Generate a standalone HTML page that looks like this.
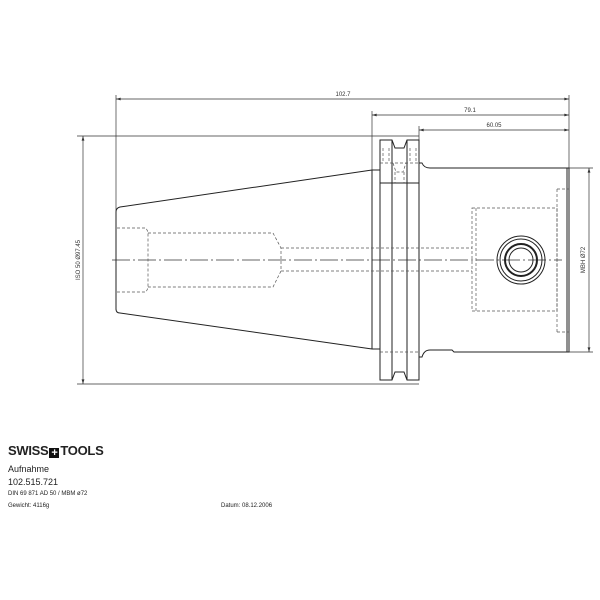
<!DOCTYPE html>
<html><head><style>
body{margin:0;background:#fff;width:600px;height:600px;overflow:hidden;font-family:"Liberation Sans",sans-serif}
svg{position:absolute;left:0;top:0}
.t{position:absolute;color:#222;white-space:nowrap}
</style></head><body>
<svg width="600" height="600" viewBox="0 0 600 600">
<defs><marker id="a" viewBox="0 0 10 6" refX="10" refY="3" markerWidth="8" markerHeight="4" orient="auto-start-reverse"><path d="M0,0L10,3L0,6z" fill="#333"/></marker></defs>
<g stroke="#333" stroke-width="0.7" fill="none">
<line x1="116" y1="99" x2="569" y2="99" marker-start="url(#a)" marker-end="url(#a)"/>
<line x1="372" y1="115" x2="569" y2="115" marker-start="url(#a)" marker-end="url(#a)"/>
<line x1="419" y1="130" x2="569" y2="130" marker-start="url(#a)" marker-end="url(#a)"/>
<line x1="116" y1="95" x2="116" y2="310"/>
<line x1="372" y1="111" x2="372" y2="170"/>
<line x1="419" y1="126" x2="419" y2="140"/>
<line x1="569" y1="95" x2="569" y2="350"/>
<line x1="77" y1="136" x2="419" y2="136"/>
<line x1="77" y1="384" x2="419" y2="384"/>
<line x1="83" y1="136" x2="83" y2="384" marker-start="url(#a)" marker-end="url(#a)"/>
<line x1="569" y1="168" x2="593" y2="168"/>
<line x1="569" y1="352" x2="593" y2="352"/>
<line x1="589" y1="168" x2="589" y2="352" marker-start="url(#a)" marker-end="url(#a)"/>
<line x1="112" y1="260" x2="562" y2="260" stroke-dasharray="18,3,2,3"/>
</g>
<g stroke="#222" stroke-width="1" fill="none">
<path d="M372,170 L120,207 Q116,208 116,212 L116,309 Q116,313 120,313 L372,349"/>
<path d="M380,380 L380,140 L392,140 L395,148 L404,148 L407,140 L419,140 L419,380 L407,380 L404,372 L395,372 L392,380 Z"/>
<line x1="392" y1="140" x2="392" y2="380"/>
<line x1="407" y1="140" x2="407" y2="380"/>
<line x1="372" y1="170" x2="372" y2="349"/>
<line x1="372" y1="170" x2="380" y2="170"/>
<line x1="372" y1="349" x2="380" y2="349"/>
<line x1="380" y1="183" x2="419" y2="183"/>
<path d="M419,163 L422,163 Q424,168 430,168 L569,168 L569,352 L454,352 L452,350 L430,350 Q424,350 422,357 L419,357"/>
<line x1="567" y1="168" x2="567" y2="352"/>
<circle cx="521" cy="260" r="24"/>
<circle cx="521" cy="260" r="21"/>
<circle cx="521" cy="260" r="16" stroke-width="2"/>
<circle cx="521" cy="260" r="12"/>
</g>
<g stroke="#555" stroke-width="0.7" fill="none" stroke-dasharray="3,2">
<path d="M117,228 L146,228 L148,232 L148,288 L146,292 L117,292"/>
<path d="M148,233 L273,233 L281,248 L281,271 L273,287 L148,287"/>
<line x1="281" y1="248" x2="472" y2="248"/>
<line x1="281" y1="271" x2="472" y2="271"/>
<path d="M472,208 L557,208 L557,311 L472,311 Z"/>
<line x1="476" y1="208" x2="476" y2="311"/>
<path d="M557,189 L569,189 M557,332 L569,332 M557,189 L557,332"/>
<path d="M380,163 L419,163 M380,352 L419,352"/>
<path d="M383,148 L383,163 M389,148 L389,163 M410,148 L410,163 M416,148 L416,163"/>
<path d="M393,163 L396,172 L403,172 L406,163 M395,172 L395,183 M404,172 L404,183"/>
</g>
<g font-family="Liberation Sans,sans-serif" font-size="6" fill="#333">
<text x="343" y="96" text-anchor="middle">102.7</text>
<text x="470" y="112" text-anchor="middle">79.1</text>
<text x="494" y="127" text-anchor="middle">60.05</text>
<text transform="translate(80,260) rotate(-90)" text-anchor="middle">ISO 50  Ø97.45</text>
<text transform="translate(585,260) rotate(-90)" text-anchor="middle">MBH  Ø72</text>
</g>
</svg>
<div class="t" style="left:8px;top:443px;font-size:13px;font-weight:bold;letter-spacing:-0.3px">SWISS<span style="display:inline-block;width:10px;height:10px;background:#111;color:#fff;font-size:11px;line-height:10px;text-align:center;vertical-align:-1px;margin:0 1px">+</span>TOOLS</div>
<div class="t" style="left:8px;top:464px;font-size:9px">Aufnahme</div>
<div class="t" style="left:8px;top:477px;font-size:9px">102.515.721</div>
<div class="t" style="left:8px;top:491px;font-size:6px">DIN 69 871 AD 50 / MBM ø72</div>
<div class="t" style="left:8px;top:503px;font-size:6px">Gewicht: 4116g</div>
<div class="t" style="left:221px;top:503px;font-size:6px">Datum: 08.12.2006</div>
</body></html>
